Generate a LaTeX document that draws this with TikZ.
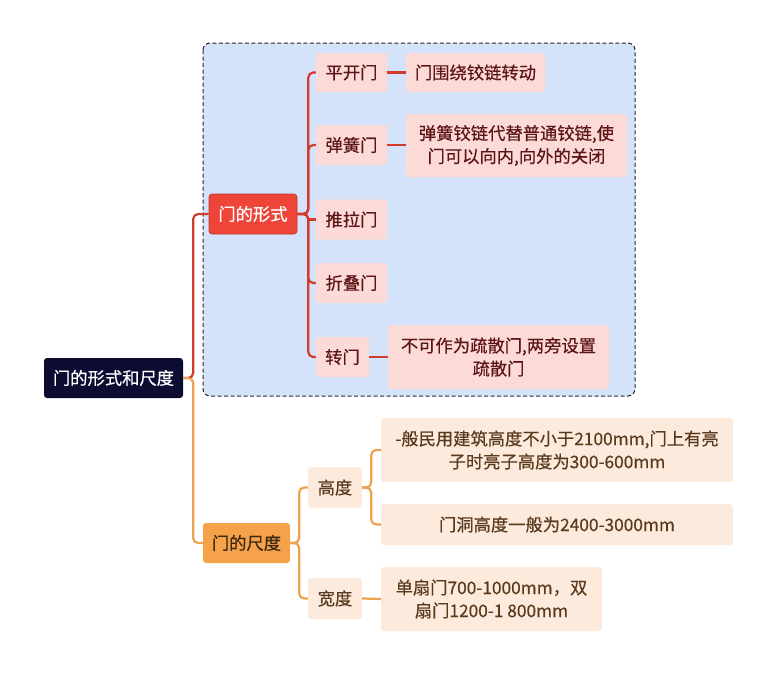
\documentclass[tikz,border=0pt]{standalone}
\usepackage{fontspec}
\setmainfont{Noto Sans CJK SC}[UprightFeatures={FakeBold=0.4}]
\usetikzlibrary{positioning}
\definecolor{rootfill}{HTML}{0C0C33}
\definecolor{boxfill}{HTML}{D4E3FA}
\definecolor{formfill}{HTML}{EF4539}
\definecolor{redfill}{HTML}{FCDAD7}
\definecolor{redtext}{HTML}{5C1414}
\definecolor{redline}{HTML}{D33A2E}
\definecolor{sizefill}{HTML}{F5A24B}
\definecolor{sizetext}{HTML}{3B2A10}
\definecolor{orfill}{HTML}{FCEBDC}
\definecolor{ortext}{HTML}{5A3A1E}
\definecolor{orline}{HTML}{EFA152}
\tikzset{
  base/.style={rounded corners=3pt, inner sep=0pt, align=center,
    font=\fontsize{17.3}{23}\selectfont},
  rootnode/.style={base, fill=rootfill, text=white},
  formnode/.style={base, fill=formfill, draw=formfill!80!black, line width=0.6pt, text=white},
  sizenode/.style={base, fill=sizefill, text=sizetext},
  rednode/.style={base, fill=redfill, text=redtext},
  ornode/.style={base, fill=orfill, text=ortext},
  redconn/.style={draw=redline, line width=2.2pt, rounded corners=5pt},
  orconn/.style={draw=orline, line width=2.2pt, rounded corners=5pt},
}
\begin{document}
\begin{tikzpicture}[x=1pt,y=-1pt]
\useasboundingbox (0,0) rectangle (776,675);
% dashed group box
\draw[fill=boxfill, draw=black!85, dash pattern=on 4pt off 2.5pt, line width=1pt, rounded corners=7pt] (203,43) rectangle (635,396);

% nodes
\node[rootnode, minimum width=139pt, minimum height=40pt] (root) at (113.5,378) {门的形式和尺度};
\node[formnode, minimum width=88pt, minimum height=40pt] (form) at (253,214) {门的形式};
\node[sizenode, minimum width=87pt, minimum height=40pt] (size) at (246.5,543) {门的尺度};

\node[rednode, minimum width=71pt, minimum height=39pt] (pk) at (351.5,72.5) {平开门};
\node[rednode, minimum width=71pt, minimum height=40pt] (th) at (351.5,145) {弹簧门};
\node[rednode, minimum width=71pt, minimum height=40pt] (tl) at (351.5,219.5) {推拉门};
\node[rednode, minimum width=71pt, minimum height=40pt] (zd) at (351.5,283) {折叠门};
\node[rednode, minimum width=53pt, minimum height=40pt] (zm) at (342.5,357) {转门};

\node[rednode, minimum width=139pt, minimum height=39pt] (pkt) at (475.5,72.5) {门围绕铰链转动};
\node[rednode, minimum width=221pt, minimum height=63pt] (tht) at (516.5,145.5) {弹簧铰链代替普通铰链,使\\门可以向内,向外的关闭};
\node[rednode, minimum width=221pt, minimum height=64pt] (zmt) at (498.5,357) {不可作为疏散门,两旁设置\\疏散门};

\node[ornode, minimum width=54pt, minimum height=41pt] (gd) at (335,487.5) {高度};
\node[ornode, minimum width=54pt, minimum height=41pt] (kd) at (335,598.5) {宽度};
\node[ornode, minimum width=352pt, minimum height=64pt] (t1) at (557,450) {-般民用建筑高度不小于2100mm,门上有亮\\子时亮子高度为300-600mm};
\node[ornode, minimum width=352pt, minimum height=41pt] (t2) at (557,524.5) {门洞高度一般为2400-3000mm};
\node[ornode, minimum width=221pt, minimum height=64pt] (t3) at (491.5,599) {单扇门700-1000mm，双\\扇门1200-1 800mm};

% connectors
\draw[redconn] (root.east) -- ++(10,0) |- (form.west);
\draw[orconn] (root.east) -- ++(10,0) |- (size.west);

\foreach \c in {pk,th,zd,zm}
  \draw[redconn] (form.east) -- ++(11,0) |- (\c.west);
\draw[redconn] ([xshift=11pt]form.east |- tl.west) -- (tl.west);
\draw[redconn] (pk.east) -- (pkt.west);
\draw[redconn] (th.east) -- (th.east -| tht.west);
\draw[redconn] (zm.east) -- (zmt.west);

\draw[orconn] (size.east) -- ++(9,0) |- (gd.west);
\draw[orconn] (size.east) -- ++(9,0) |- (kd.west);
\draw[orconn] (gd.east) -- ++(9,0) |- (t1.west);
\draw[orconn] (gd.east) -- ++(9,0) |- (t2.west);
\draw[orconn] (kd.east) -- (t3.west);
\end{tikzpicture}
\end{document}
